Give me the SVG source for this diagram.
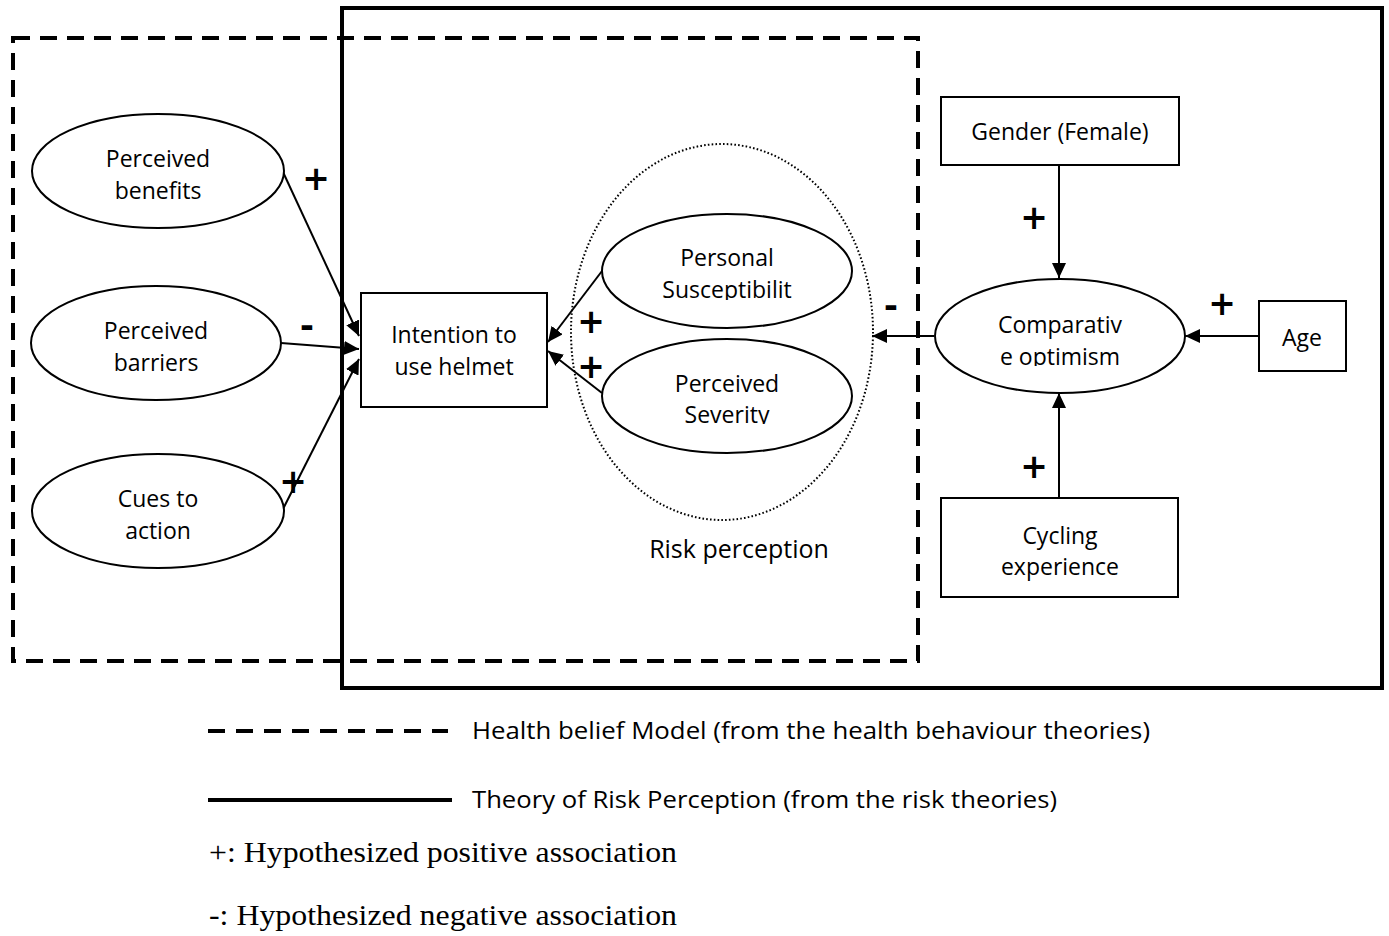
<svg xmlns="http://www.w3.org/2000/svg" width="1389" height="936" viewBox="0 0 1389 936">
<style>
.bg{fill:#fff}
.frame-dash{fill:none;stroke:#000;stroke-width:4;stroke-dasharray:17 10}
.frame-solid{fill:none;stroke:#000;stroke-width:4}
.node{fill:#fff;stroke:#000;stroke-width:2}
.group-dot{fill:none;stroke:#000;stroke-width:2;stroke-dasharray:1.6 2.2}
.lbl{font-family:"Open Sans","Liberation Sans",sans-serif;font-size:23px;fill:#000;text-anchor:middle}
.big{font-family:"Open Sans","Liberation Sans",sans-serif;font-size:25px;fill:#000;text-anchor:middle}
.plus{font-family:"DejaVu Sans",sans-serif;font-size:33px;font-weight:bold;fill:#000;text-anchor:middle}
.minus{font-family:"Open Sans","Liberation Sans",sans-serif;font-size:40px;font-weight:bold;fill:#000;text-anchor:middle}
.leg{font-family:"Open Sans","Liberation Sans",sans-serif;font-size:23px;fill:#000}
.legs{font-family:"Liberation Serif","Times New Roman",serif;font-size:29px;fill:#000}
.edge{fill:none;stroke:#000;stroke-width:2}
</style>
<defs>
<marker id="arr" markerUnits="userSpaceOnUse" markerWidth="16" markerHeight="14" refX="15" refY="7" orient="auto">
<path d="M0,0 L15,7 L0,14 z" fill="#000"/>
</marker>
<clipPath id="clipSus"><rect x="600" y="200" width="260" height="100"/></clipPath>
<clipPath id="clipSev"><rect x="600" y="330" width="260" height="94"/></clipPath>
<clipPath id="clipComp"><rect x="930" y="270" width="260" height="96"/></clipPath>
</defs>
<rect class="bg" x="0" y="0" width="1389" height="936"/>

<g id="frames">
<rect class="frame-solid" x="342" y="8" width="1040" height="680"/>
<rect class="frame-dash" x="13" y="38" width="905" height="623"/>
</g>

<g id="risk-perception-group">
<ellipse class="group-dot" cx="722" cy="332" rx="151" ry="188"/>
<text class="big" x="739" y="558">Risk perception</text>
</g>

<g id="connectors">
<line class="edge" x1="283" y1="172" x2="359" y2="336" marker-end="url(#arr)"/>
<line class="edge" x1="281" y1="343" x2="359" y2="349" marker-end="url(#arr)"/>
<line class="edge" x1="283" y1="509" x2="359" y2="359" marker-end="url(#arr)"/>
<line class="edge" x1="602" y1="271" x2="548" y2="342" marker-end="url(#arr)"/>
<line class="edge" x1="602" y1="393" x2="548" y2="351" marker-end="url(#arr)"/>
<line class="edge" x1="934" y1="336" x2="872" y2="336" marker-end="url(#arr)"/>
<line class="edge" x1="1059" y1="166" x2="1059" y2="278" marker-end="url(#arr)"/>
<line class="edge" x1="1259" y1="336" x2="1185" y2="336" marker-end="url(#arr)"/>
<line class="edge" x1="1059" y1="498" x2="1059" y2="393" marker-end="url(#arr)"/>
</g>

<g id="signs">
<text class="plus" x="316" y="190">+</text>
<text class="minus" x="307" y="338">-</text>
<text class="plus" x="293" y="493">+</text>
<text class="plus" x="591" y="333">+</text>
<text class="plus" x="591" y="378">+</text>
<text class="minus" x="891" y="318">-</text>
<text class="plus" x="1034" y="229">+</text>
<text class="plus" x="1222" y="315">+</text>
<text class="plus" x="1034" y="478">+</text>
</g>

<g id="perceived-benefits">
<ellipse class="node" cx="158" cy="171" rx="126" ry="57"/>
<text class="lbl" x="158" y="167">Perceived</text>
<text class="lbl" x="158" y="199">benefits</text>
</g>
<g id="perceived-barriers">
<ellipse class="node" cx="156" cy="343" rx="125" ry="57"/>
<text class="lbl" x="156" y="339">Perceived</text>
<text class="lbl" x="156" y="371">barriers</text>
</g>
<g id="cues-to-action">
<ellipse class="node" cx="158" cy="511" rx="126" ry="57"/>
<text class="lbl" x="158" y="507">Cues to</text>
<text class="lbl" x="158" y="539">action</text>
</g>
<g id="intention">
<rect class="node" x="361" y="293" width="186" height="114"/>
<text class="lbl" x="454" y="343">Intention to</text>
<text class="lbl" x="454" y="375">use helmet</text>
</g>
<g id="personal-susceptibility">
<ellipse class="node" cx="727" cy="271" rx="125" ry="57"/>
<text class="lbl" x="727" y="266">Personal</text>
<text class="lbl" x="727" y="298" clip-path="url(#clipSus)">Susceptibilit</text>
</g>
<g id="perceived-severity">
<ellipse class="node" cx="727" cy="396" rx="125" ry="57"/>
<text class="lbl" x="727" y="392">Perceived</text>
<text class="lbl" x="727" y="423" clip-path="url(#clipSev)">Severity</text>
</g>
<g id="gender">
<rect class="node" x="941" y="97" width="238" height="68"/>
<text class="lbl" x="1060" y="140">Gender (Female)</text>
</g>
<g id="comparative-optimism">
<ellipse class="node" cx="1060" cy="336" rx="125" ry="57"/>
<text class="lbl" x="1060" y="333">Comparativ</text>
<text class="lbl" x="1060" y="365" clip-path="url(#clipComp)">e optimism</text>
</g>
<g id="age">
<rect class="node" x="1259" y="301" width="87" height="70"/>
<text class="lbl" x="1302" y="346">Age</text>
</g>
<g id="cycling-experience">
<rect class="node" x="941" y="498" width="237" height="99"/>
<text class="lbl" x="1060" y="544">Cycling</text>
<text class="lbl" x="1060" y="575">experience</text>
</g>

<g id="legend">
<line x1="208" y1="731" x2="448" y2="731" stroke="#000" stroke-width="4" stroke-dasharray="17 11"/>
<text class="leg" x="472" y="739" textLength="678" lengthAdjust="spacingAndGlyphs">Health belief Model (from the health behaviour theories)</text>
<line x1="208" y1="800" x2="452" y2="800" stroke="#000" stroke-width="4"/>
<text class="leg" x="472" y="808" textLength="585" lengthAdjust="spacingAndGlyphs">Theory of Risk Perception (from the risk theories)</text>
<text class="legs" x="209" y="862" textLength="468" lengthAdjust="spacingAndGlyphs">+: Hypothesized positive association</text>
<text class="legs" x="209" y="925" textLength="468" lengthAdjust="spacingAndGlyphs">-: Hypothesized negative association</text>
</g>
</svg>
